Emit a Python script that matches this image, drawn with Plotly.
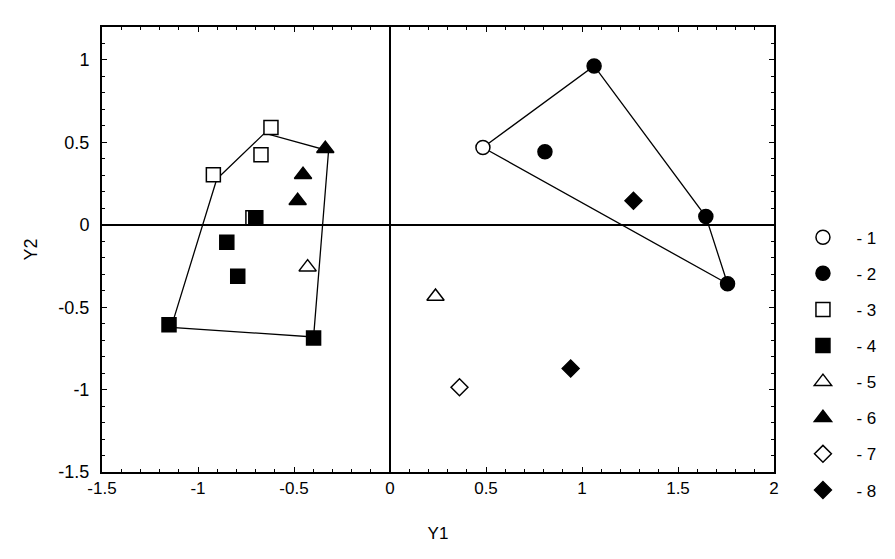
import plotly.graph_objects as go

# Data
g1_x = [0.484]; g1_y = [0.469]
g2_x = [1.063, 0.807, 1.645, 1.758]; g2_y = [0.964, 0.443, 0.050, -0.358]
g3_x = [-0.620, -0.672, -0.920, -0.714]; g3_y = [0.590, 0.425, 0.304, 0.042]
g4_x = [-0.699, -0.850, -0.793, -1.151, -0.398]; g4_y = [0.042, -0.106, -0.312, -0.606, -0.687]
g5_x = [-0.429, 0.237]; g5_y = [-0.257, -0.435]
g6_x = [-0.337, -0.453, -0.481]; g6_y = [0.462, 0.304, 0.146]
g7_x = [0.362]; g7_y = [-0.986]
g8_x = [1.268, 0.941]; g8_y = [0.146, -0.872]

# hull outlines
hullL_x = [-0.902, -0.653, -0.320, -0.398, -1.140, -0.902]
hullL_y = [0.278, 0.556, 0.449, -0.681, -0.622, 0.278]
hullR_x = [0.484, 1.063, 1.645, 1.758, 0.484]
hullR_y = [0.469, 0.964, 0.050, -0.358, 0.469]

x_ticks = [-1.5, -1, -0.5, 0, 0.5, 1, 1.5, 2]
x_labels = ["-1.5", "-1", "-0.5", "0", "0.5", "1", "1.5", "2"]
y_ticks = [-1.5, -1, -0.5, 0, 0.5, 1]
y_labels = ["-1.5", "-1", "-0.5", "0", "0.5", "1"]

names = ["- 1", "- 2", "- 3", "- 4", "- 5", "- 6", "- 7", "- 8"]
xs = [g1_x, g2_x, g3_x, g4_x, g5_x, g6_x, g7_x, g8_x]
ys = [g1_y, g2_y, g3_y, g4_y, g5_y, g6_y, g7_y, g8_y]
symbols = ["circle", "circle", "square", "square", "triangle-up", "triangle-up", "diamond", "diamond"]
fills = ["white", "black", "white", "black", "white", "black", "white", "black"]
sizes = [14, 14, 14, 14, 15, 15, 13, 13]

FONT = "Liberation Sans"

fig = go.Figure()
for hx, hy in [(hullL_x, hullL_y), (hullR_x, hullR_y)]:
    fig.add_trace(go.Scatter(x=hx, y=hy, mode="lines", line=dict(color="black", width=1.3),
                             showlegend=False, hoverinfo="skip"))
for i in range(8):
    fig.add_trace(go.Scatter(x=xs[i], y=ys[i], mode="markers", name=names[i],
                             legendgroup=names[i],
                             marker=dict(symbol=symbols[i], size=sizes[i], color=fills[i],
                                         line=dict(color="black", width=1.5))))

axis_common = dict(showgrid=False, zeroline=True, zerolinecolor="black", zerolinewidth=1.5,
                   showline=True, linecolor="black", linewidth=2, mirror="allticks",
                   ticks="inside", ticklen=5, tickcolor="black", tickwidth=1,
                   minor=dict(dtick=0.1, ticks="inside", ticklen=3, tickcolor="black"))

fig.update_xaxes(range=[-1.5, 2], tickmode="array", tickvals=x_ticks, ticktext=x_labels,
                 tickfont=dict(family=FONT, size=17, color="black"),
                 title=dict(text="Y1", font=dict(family=FONT, size=17, color="black"), standoff=30),
                 **axis_common)
fig.update_yaxes(range=[-1.5, 1.2], tickmode="array", tickvals=y_ticks, ticktext=y_labels,
                 tickfont=dict(family=FONT, size=18, color="black"), ticklabelstandoff=7,
                 title=dict(text="Y2", font=dict(family=FONT, size=18, color="black"), standoff=16),
                 **axis_common)

fig.update_layout(
    width=887, height=551,
    margin=dict(l=94, r=121, t=19, b=87),
    paper_bgcolor="white", plot_bgcolor="white",
    legend=dict(x=1.023, y=0.567, xanchor="left", yanchor="top", tracegroupgap=11,
                itemwidth=57,
                font=dict(family=FONT, size=17, color="black"),
                traceorder="grouped"),
)

fig.write_html("out.html")
